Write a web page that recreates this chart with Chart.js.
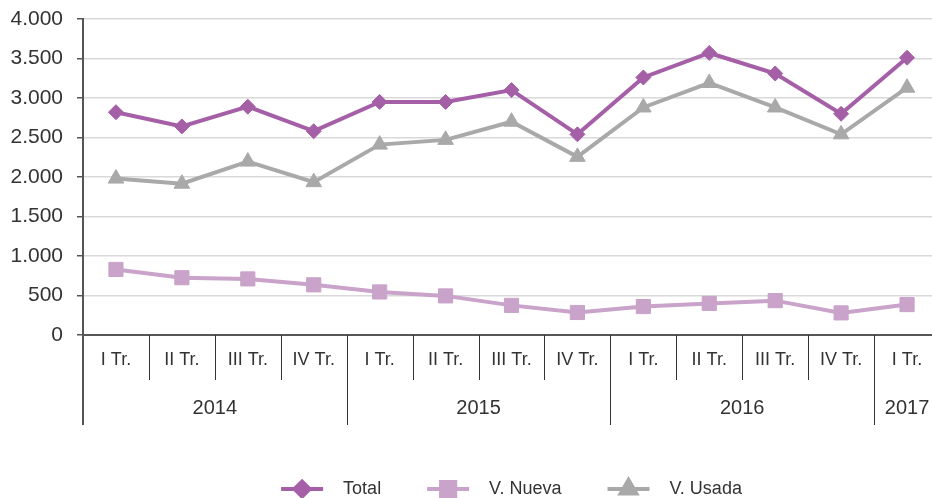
<!DOCTYPE html>
<html>
<head>
<meta charset="utf-8">
<script src="https://cdn.jsdelivr.net/npm/chart.js@4.4.1/dist/chart.umd.min.js"></script>
<style>
  html, body { margin: 0; padding: 0; background: #fff; overflow: hidden; }
  #wrap { width: 932px; height: 498px; overflow: hidden; position: relative; }
  #chart { display: block; position: absolute; left: 0; top: 0; }
</style>
</head>
<body>
<div id="wrap"><canvas id="chart" width="942" height="498" style="width:942px;height:498px"></canvas></div>
<script>
const quarters = ['I Tr.', 'II Tr.', 'III Tr.', 'IV Tr.', 'I Tr.', 'II Tr.', 'III Tr.', 'IV Tr.', 'I Tr.', 'II Tr.', 'III Tr.', 'IV Tr.', 'I Tr.'];
const years = ['2014', '2015', '2016', '2017'];
const quartersPerYear = [4, 4, 4, 1];

const totalValues = [2820, 2640, 2890, 2580, 2950, 2950, 3100, 2540, 3260, 3570, 3310, 2800, 3510];
const nuevaValues = [830, 725, 710, 635, 545, 495, 375, 285, 360, 400, 435, 280, 385];
const usadaValues = [1980, 1915, 2195, 1935, 2410, 2470, 2700, 2255, 2880, 3190, 2880, 2540, 3130];

const yTicks = [0, 500, 1000, 1500, 2000, 2500, 3000, 3500, 4000];

const FONT = "'Liberation Sans', Arial, sans-serif";
const TEXT = '#333333';

// 4000 -> "4.000"
function fmt(v) {
    return String(v).replace(/\B(?=(\d{3})+(?!\d))/g, '.');
}

function drawMarker(ctx, style, r, x, y) {
    if (Chart.helpers && Chart.helpers.drawPoint) {
        Chart.helpers.drawPoint(ctx, { pointStyle: style, radius: r, rotation: 0, borderWidth: 1 }, x, y);
    }
}

// year row under the quarters, separators and the legend
const groupAxis = {
    id: 'groupAxis',
    afterDraw(chart) {
        const { ctx, chartArea } = chart;
        const x = chart.scales.x;
        const bottom = chartArea.bottom;
        const edge = i => x.getPixelForValue(i - 0.5);

        const starts = [];
        let s = 0;
        quartersPerYear.forEach(n => { starts.push(s); s += n; });

        ctx.save();
        ctx.strokeStyle = '#333';
        ctx.lineWidth = 1;
        for (let i = 1; i < quarters.length; i++) {
            const long = starts.includes(i);
            const px = Math.round(edge(i)) + 0.5;
            ctx.beginPath();
            ctx.moveTo(px, bottom);
            ctx.lineTo(px, bottom + (long ? 90 : 45));
            ctx.stroke();
        }
        // left axis goes down past the labels
        ctx.strokeStyle = '#555';
        ctx.lineWidth = 2;
        ctx.beginPath();
        ctx.moveTo(chartArea.left, bottom);
        ctx.lineTo(chartArea.left, bottom + 90);
        ctx.stroke();

        ctx.fillStyle = TEXT;
        ctx.font = '20px ' + FONT;
        ctx.textAlign = 'center';
        ctx.textBaseline = 'middle';
        years.forEach((yr, k) => {
            const a = edge(starts[k]);
            const b = edge(starts[k] + quartersPerYear[k]);
            ctx.fillText(yr, (a + b) / 2, bottom + 73);
        });

        // legend: line with marker, then label
        const lineLen = 42, textGap = 20, itemGap = 46;
        ctx.font = '18px ' + FONT;
        ctx.textAlign = 'left';
        const items = chart.data.datasets.map(ds => ({
            label: ds.label, color: ds.borderColor, style: ds.pointStyle, r: ds.pointRadius
        }));
        const widths = items.map(it => lineLen + textGap + ctx.measureText(it.label).width);
        const full = widths.reduce((a, b) => a + b, 0) + itemGap * (items.length - 1);
        let lx = (chartArea.left + chartArea.right) / 2 - full / 2;
        const ly = 489;
        items.forEach((it, i) => {
            ctx.strokeStyle = it.color;
            ctx.fillStyle = it.color;
            ctx.lineWidth = 4;
            ctx.beginPath();
            ctx.moveTo(lx, ly);
            ctx.lineTo(lx + lineLen, ly);
            ctx.stroke();
            drawMarker(ctx, it.style, it.r, lx + lineLen / 2, ly);
            ctx.fillStyle = TEXT;
            ctx.fillText(it.label, lx + lineLen + textGap, ly);
            lx += widths[i] + itemGap;
        });
        ctx.restore();
    }
};

const ctx = document.getElementById('chart').getContext('2d');
new Chart(ctx, {
    type: 'line',
    data: {
        labels: quarters,
        datasets: [
            {
                label: 'Total',
                data: totalValues,
                borderColor: '#a55fa7',
                backgroundColor: '#a55fa7',
                pointBackgroundColor: '#a55fa7',
                pointBorderColor: '#a55fa7',
                borderWidth: 4,
                pointStyle: 'rectRot',
                pointRadius: 7.5,
                pointBorderWidth: 1,
                tension: 0
            },
            {
                label: 'V. Nueva',
                data: nuevaValues,
                borderColor: '#c9a3c9',
                backgroundColor: '#c9a3c9',
                pointBackgroundColor: '#c9a3c9',
                pointBorderColor: '#c9a3c9',
                borderWidth: 4,
                pointStyle: 'rect',
                pointRadius: 10,
                pointBorderWidth: 1,
                tension: 0
            },
            {
                label: 'V. Usada',
                data: usadaValues,
                borderColor: '#a9a9a9',
                backgroundColor: '#a9a9a9',
                pointBackgroundColor: '#a9a9a9',
                pointBorderColor: '#a9a9a9',
                borderWidth: 4,
                pointStyle: 'triangle',
                pointRadius: 9,
                pointBorderWidth: 1,
                tension: 0
            }
        ]
    },
    options: {
        responsive: false,
        animation: false,
        events: [],
        layout: { autoPadding: false, padding: { top: 19, right: 2, left: 0, bottom: 0 } },
        plugins: {
            legend: { display: false },
            tooltip: { enabled: false }
        },
        scales: {
            x: {
                type: 'category',
                offset: true,
                grid: { display: false, drawTicks: false },
                border: { display: true, color: '#555', width: 2 },
                ticks: {
                    autoSkip: false,
                    maxRotation: 0,
                    padding: 14,
                    color: TEXT,
                    font: { family: FONT, size: 18 }
                },
                afterFit: s => {
                    s.height = 163;
                    s.paddingLeft = 0;
                    s.paddingRight = 0;
                }
            },
            y: {
                min: yTicks[0],
                max: yTicks[yTicks.length - 1],
                afterBuildTicks: s => { s.ticks = yTicks.map(v => ({ value: v })); },
                grid: { color: '#d9d9d9', lineWidth: 1.5, tickColor: '#555', tickLength: 6 },
                border: { color: '#555', width: 2 },
                ticks: {
                    padding: 14,
                    color: TEXT,
                    font: { family: FONT, size: 21 },
                    callback: v => fmt(v)
                },
                afterFit: s => {
                    s.width = 83;
                    s.paddingTop = 0;
                    s.paddingBottom = 0;
                }
            }
        }
    },
    plugins: [groupAxis]
});
</script>
</body>
</html>
